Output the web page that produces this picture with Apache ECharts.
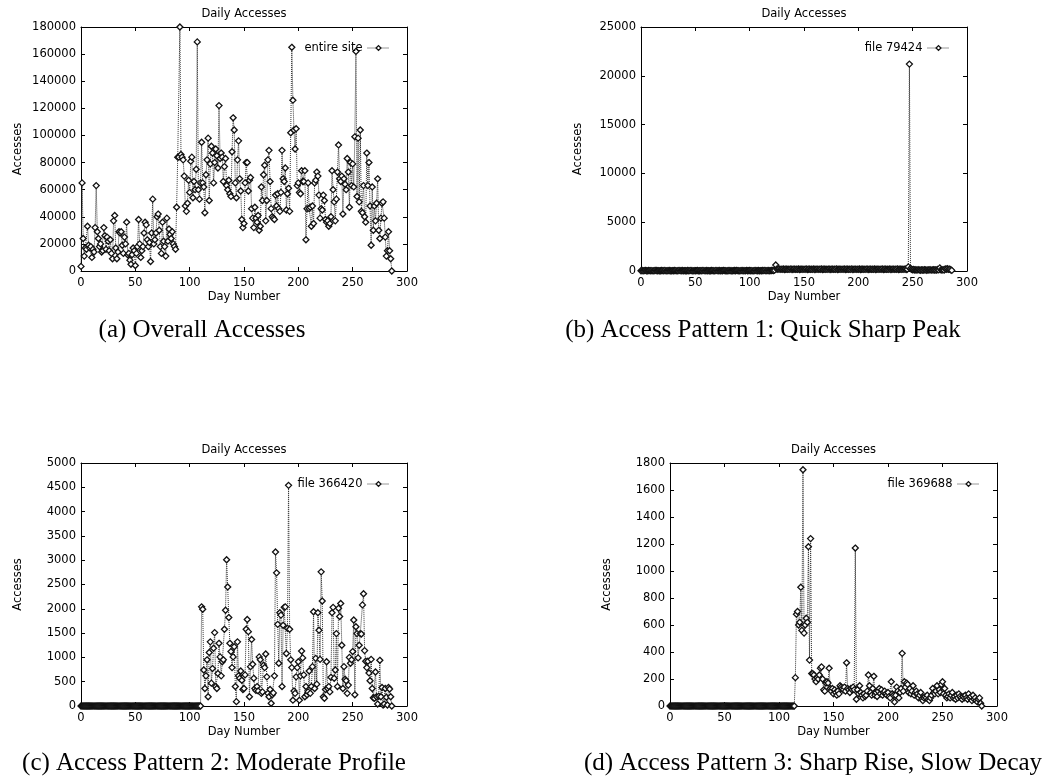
<!DOCTYPE html>
<html>
<head>
<meta charset="utf-8">
<script src="https://cdn.jsdelivr.net/npm/echarts@6/dist/echarts.min.js"></script>
<style>
html,body{margin:0;padding:0;background:#fff;}
#chart{width:1051px;height:783px;}
</style>
</head>
<body>
<div id="chart"></div>
<script>
// ---------- data (index = day number) ----------
const xTicks = [0, 50, 100, 150, 200, 250, 300];

const entireSite = [
3400,65000,24000,11000,17000,16000,33000,19000,17000,18000,
10000,16000,14000,32000,63000,29000,24000,18000,20000,14000,
15000,32000,26000,16000,25000,22000,15000,23000,13000,9000,
37000,41000,17000,9000,14000,29000,28000,29000,19000,13000,
25000,20000,36000,12000,13000,8000,5000,12000,17000,15000,
4000,13000,18000,38000,20000,10000,15000,18000,28000,36000,
34000,23000,18000,21000,7000,28000,53000,20000,23000,28000,
40000,42000,30000,18000,13000,36000,22000,18000,11000,39000,
22000,31000,27000,24000,29000,20000,18000,16000,47000,84000,
84000,180000,86000,84000,82000,70000,48000,44000,50000,67000,
58000,81000,84000,54000,66000,60000,75000,169000,60000,53000,
65000,95000,65000,62000,43000,71000,82000,98000,52000,79000,
92000,87000,65000,80000,90000,85000,76000,122000,83000,87000,
84000,66000,77000,83000,63000,60000,67000,57000,55000,88000,
113000,104000,65000,54000,82000,96000,68000,59000,38000,32000,
35000,65000,80000,80000,59000,67000,69000,46000,39000,32000,
47000,39000,36000,41000,30000,33000,62000,52000,71000,78000,
37000,52000,82000,89000,66000,46000,40000,39000,38000,56000,
48000,57000,46000,44000,58000,89000,68000,66000,76000,45000,
57000,61000,44000,102000,165000,126000,104000,90000,105000,63000,
65000,58000,57000,74000,66000,66000,74000,23000,46000,65000,
46000,47000,33000,48000,35000,65000,67000,73000,70000,56000,
39000,46000,45000,56000,52000,38000,36000,37000,33000,35000,
40000,74000,60000,51000,37000,53000,73000,93000,68000,66000,
70000,42000,68000,64000,60000,83000,73000,47000,80000,63000,
79000,62000,99000,162000,55000,98000,51000,104000,44000,43000,
63000,40000,36000,87000,63000,80000,48000,19000,62000,30000,
48000,37000,50000,68000,30000,24000,39000,50000,51000,39000,
25000,11000,15000,29000,15000,9000,0
];

const file79424 = [
30,50,20,40,60,30,20,50,40,30,
40,20,30,60,50,30,40,20,30,50,
40,30,60,20,30,40,50,30,20,40,
30,50,40,20,30,60,40,30,50,20,
40,30,20,50,30,40,60,30,20,40,
30,40,50,20,30,40,30,60,40,20,
50,30,40,20,30,50,40,30,20,60,
40,30,50,20,40,30,60,40,30,20,
30,50,40,30,20,40,50,30,60,40,
30,20,40,50,30,40,20,60,30,40,
50,30,40,20,30,60,40,30,50,20,
40,30,50,40,60,30,40,50,30,40,
50,60,40,90,620,200,180,220,160,190,
170,210,150,180,200,160,190,170,220,150,
180,200,160,190,170,210,150,180,200,160,
190,170,220,150,180,200,160,190,170,210,
150,180,200,160,190,170,220,150,180,200,
160,190,170,210,150,180,200,160,190,170,
220,150,180,200,160,190,170,210,150,180,
200,160,190,170,220,150,180,200,160,190,
170,210,150,180,200,160,190,170,220,150,
180,200,160,190,170,210,150,180,200,160,
190,170,220,150,180,200,160,190,170,210,
150,180,200,160,190,170,220,150,180,200,
160,190,170,210,150,180,420,21200,260,180,
120,150,100,130,90,140,110,80,120,100,
90,130,110,80,120,100,140,90,110,130,
100,120,90,150,110,320,120,100,140,90,
220,180,230,160,200,120,60
];

const file366420 = [
0,0,0,0,0,0,0,0,0,0,
0,0,0,0,0,0,0,0,0,0,
0,0,0,0,0,0,0,0,0,0,
0,0,0,0,0,0,0,0,0,0,
0,0,0,0,0,0,0,0,0,0,
0,0,0,0,0,0,0,0,0,0,
0,0,0,0,0,0,0,0,0,0,
0,0,0,0,0,0,0,0,0,0,
0,0,0,0,0,0,0,0,0,0,
0,0,0,0,0,0,0,0,0,0,
0,0,0,0,0,0,0,0,0,0,
0,2040,1990,740,360,620,950,190,1100,1320,
470,770,1190,1510,400,360,670,1290,1010,620,
910,950,1580,1970,3010,2450,1820,1290,1120,790,
1010,1220,400,90,1320,620,570,720,530,340,
360,640,1580,1780,1530,190,810,1370,860,570,
360,320,400,310,1010,950,260,290,840,790,
1070,600,260,190,340,55,230,270,620,3170,
2740,1680,880,1920,1870,400,1660,2030,2040,1080,
1600,4540,1580,950,790,120,310,260,600,790,
910,120,620,1130,990,640,190,400,230,290,
720,260,400,810,1940,360,980,450,1920,1560,
960,2760,2160,190,160,340,910,360,400,290,
590,1920,2030,570,740,1490,400,2010,1840,2110,
1250,360,810,550,520,260,430,1000,880,950,
1120,1770,230,1630,1490,990,1250,1490,1480,2080,
2310,1140,920,790,920,680,520,960,360,170,
160,700,190,40,200,940,190,380,20,40,
360,180,20,380,350,190,0
];

const file369688 = [
0,0,0,0,0,0,0,0,0,0,
0,0,0,0,0,0,0,0,0,0,
0,0,0,0,0,0,0,0,0,0,
0,0,0,0,0,0,0,0,0,0,
0,0,0,0,0,0,0,0,0,0,
0,0,0,0,0,0,0,0,0,0,
0,0,0,0,0,0,0,0,0,0,
0,0,0,0,0,0,0,0,0,0,
0,0,0,0,0,0,0,0,0,0,
0,0,0,0,0,0,0,0,0,0,
0,0,0,0,0,0,0,0,0,0,
0,0,0,0,0,210,680,700,600,620,
880,560,1750,540,600,650,620,1180,340,1240,
240,240,230,200,180,210,200,230,280,290,
200,120,110,170,180,170,280,130,110,130,
90,120,100,80,110,90,150,140,130,120,
140,110,320,130,120,100,130,120,140,120,
1170,50,120,90,150,100,80,60,90,70,
80,110,230,150,100,80,130,220,80,100,
70,110,130,90,120,80,100,110,90,80,
100,70,60,180,90,80,30,80,140,110,
60,100,130,390,110,180,140,170,160,100,
130,90,110,150,80,100,110,90,60,80,
100,50,40,60,70,60,80,50,40,60,
80,130,100,90,110,150,90,120,100,160,
180,90,130,80,60,70,90,60,80,100,
60,70,50,80,60,90,70,60,50,70,
60,80,60,50,90,60,70,40,80,50,
60,40,30,50,60,20,0
];

// ---------- panel layout ----------
const panels = [
  {name:'entire site', data:entireSite, max:180000, interval:20000,
   grid:{left:81, top:27, width:326, height:244}, legendRight:656, legendTop:37,
   caption:'(a) Overall Accesses', capX:202, capY:330},
  {name:'file 79424', data:file79424, max:25000, interval:5000,
   grid:{left:641, top:27, width:326, height:244}, legendRight:96, legendTop:37,
   caption:'(b) Access Pattern 1: Quick Sharp Peak', capX:763, capY:330},
  {name:'file 366420', data:file366420, max:5000, interval:500,
   grid:{left:81, top:463, width:326, height:243}, legendRight:656, legendTop:473,
   caption:'(c) Access Pattern 2: Moderate Profile', capX:214, capY:763},
  {name:'file 369688', data:file369688, max:1800, interval:200,
   grid:{left:670, top:463, width:327, height:243}, legendRight:66, legendTop:473,
   caption:'(d) Access Pattern 3: Sharp Rise, Slow Decay', capX:813, capY:763}
];

const FONT = 'DejaVu Sans';
const FS = 11.5;
const axisLine = {show:true, onZero:false, lineStyle:{color:'#000', width:1}};
const axisTick = {show:true, inside:true, length:4, lineStyle:{color:'#000', width:1}};
const plain = v => String(v);

const option = {
  animation:false,
  backgroundColor:'#fff',
  grid:[], xAxis:[], yAxis:[], series:[], legend:[], graphic:[]
};

panels.forEach((p, i) => {
  option.grid.push(Object.assign({containLabel:false}, p.grid));
  // bottom x axis
  option.xAxis.push({
    type:'value', gridIndex:i, position:'bottom', min:xTicks[0], max:xTicks[xTicks.length-1],
    interval:xTicks[1]-xTicks[0],
    axisLine, axisTick, splitLine:{show:false},
    axisLabel:{color:'#000', fontFamily:FONT, fontSize:FS, margin:6, formatter:plain},
    name:'Day Number', nameLocation:'middle', nameGap:20,
    nameTextStyle:{color:'#000', fontFamily:FONT, fontSize:FS}
  });
  // top mirror x axis
  option.xAxis.push({
    type:'value', gridIndex:i, position:'top', min:xTicks[0], max:xTicks[xTicks.length-1],
    interval:xTicks[1]-xTicks[0],
    axisLine, axisTick, splitLine:{show:false}, axisLabel:{show:false}
  });
  // left y axis
  option.yAxis.push({
    type:'value', gridIndex:i, position:'left', min:0, max:p.max, interval:p.interval,
    axisLine, axisTick, splitLine:{show:false},
    axisLabel:{color:'#000', fontFamily:FONT, fontSize:FS, margin:5, formatter:plain},
    name:'Accesses', nameLocation:'middle', nameRotate:90, nameGap:57,
    nameTextStyle:{color:'#000', fontFamily:FONT, fontSize:FS}
  });
  // right mirror y axis
  option.yAxis.push({
    type:'value', gridIndex:i, position:'right', min:0, max:p.max, interval:p.interval,
    axisLine, axisTick, splitLine:{show:false}, axisLabel:{show:false}
  });

  option.series.push({
    name:p.name, type:'line', xAxisIndex:2*i, yAxisIndex:2*i,
    data:p.data.map((v, d) => [d, v]),
    showAllSymbol:true, symbol:'diamond', symbolSize:6,
    itemStyle:{color:'#fff', borderColor:'#111', borderWidth:1.3},
    lineStyle:{color:'#333', width:1, type:'dotted'},
    emphasis:{disabled:true}
  });

  option.legend.push({
    data:[p.name], right:p.legendRight, top:p.legendTop, orient:'horizontal',
    align:'right', itemWidth:22, itemHeight:6, selectedMode:false,
    textStyle:{color:'#000', fontFamily:FONT, fontSize:FS},
    itemStyle:{color:'#fff', borderColor:'#111', borderWidth:1.3},
    lineStyle:{color:'#333', width:1, type:'dotted'}
  });

  const g = p.grid;
  option.graphic.push({
    type:'text', x:g.left + g.width/2, y:g.top - 13,
    style:{text:'Daily Accesses', fill:'#000', font:`${FS}px "${FONT}"`, textAlign:'center', textVerticalAlign:'middle'}
  });
  option.graphic.push({
    type:'text', x:p.capX, y:p.capY,
    style:{text:p.caption, fill:'#000', font:'25px "Liberation Serif"', textAlign:'center', textVerticalAlign:'middle'}
  });
});

const chart = echarts.init(document.getElementById('chart'), null, {renderer:'canvas'});
chart.setOption(option);
</script>
</body>
</html>
